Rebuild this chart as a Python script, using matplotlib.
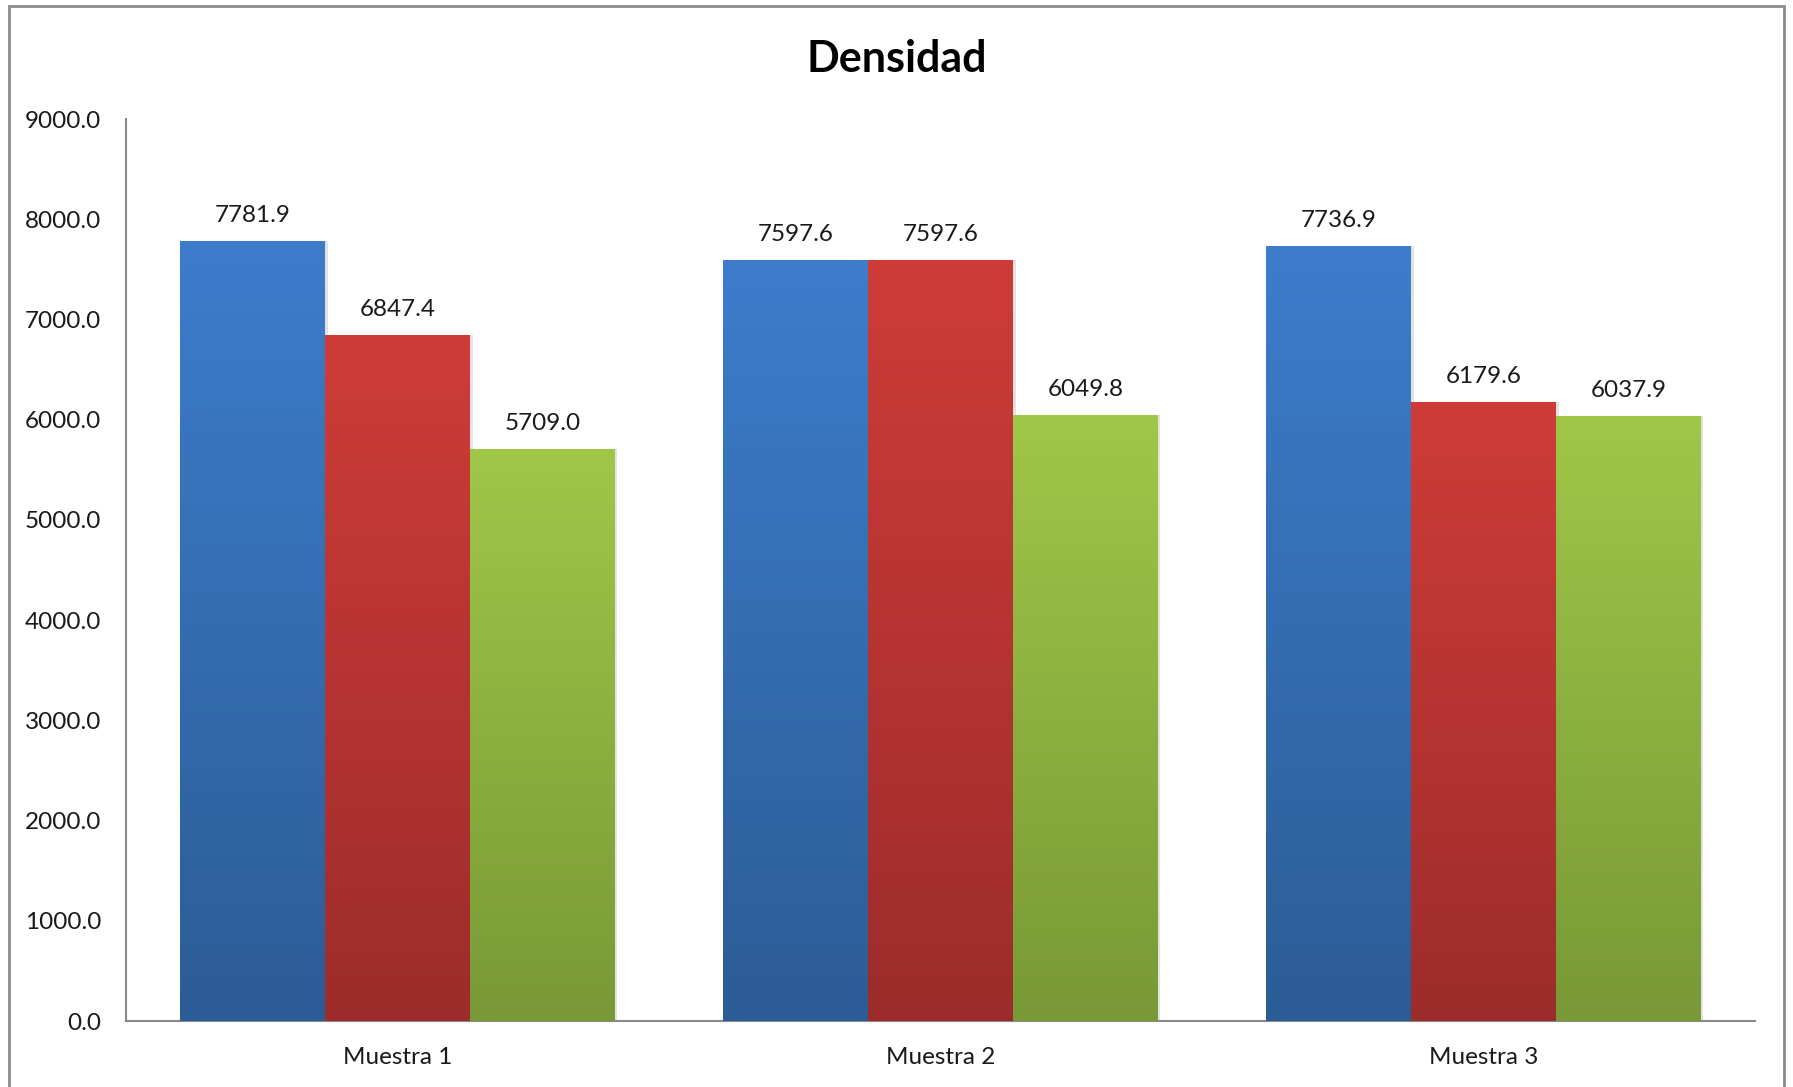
import numpy as np
import matplotlib
matplotlib.use("Agg")
import matplotlib.pyplot as plt
from matplotlib.colors import LinearSegmentedColormap
from matplotlib.patches import Rectangle

# data
categorias = ["Muestra 1", "Muestra 2", "Muestra 3"]
serie_a = [7781.9, 7597.6, 7736.9]
serie_b = [6847.4, 7597.6, 6179.6]
serie_c = [5709.0, 6049.8, 6037.9]
ticks_y = [0, 1000, 2000, 3000, 4000, 5000, 6000, 7000, 8000, 9000]

# gradient colours (top, bottom) like the excel look
grad = [("#3d7dcc", "#2c5c96"),
        ("#cf3c38", "#9c2c2b"),
        ("#a0c748", "#789936")]

plt.rcParams['font.family'] = ['Lato', 'DejaVu Sans']

fig = plt.figure(figsize=(17.93, 10.87), dpi=100)
ax = fig.add_axes([0.0703, 0.0607, 0.9085, 0.8298])

# outer frame of the chart area
fig.patches.append(Rectangle((9/1793, -0.05), 1775/1793, 1.05 - 6/1087,
                             transform=fig.transFigure, fill=False,
                             edgecolor="#8c8c8c", linewidth=2, zorder=0))

x = np.arange(len(categorias))
w = 0.8/3
series = [serie_a, serie_b, serie_c]
grad_img = np.linspace(0, 1, 256).reshape(-1, 1)

for i, vals in enumerate(series):
    pos = x + (i-1)*w
    # soft shadow
    ax.bar(pos + 0.005, vals, w, color="#e2e2e2", zorder=1, linewidth=0)
    bars = ax.bar(pos, vals, w, color=grad[i][0], zorder=2, linewidth=0)
    cmap = LinearSegmentedColormap.from_list("g%d" % i, [grad[i][1], grad[i][0]])
    for b, v in zip(bars, vals):
        x0 = b.get_x()
        im = ax.imshow(grad_img, cmap=cmap, origin="lower", aspect="auto",
                       extent=[x0, x0 + w, 0, v], zorder=3)
        im.set_clip_path(b)
        ax.text(x0 + w/2, v + 150, "%.1f" % v, ha="center", va="bottom",
                fontsize=17.5, color="#1a1a1a", zorder=4)

ax.set_xlim(-0.5, 2.5)
ax.set_ylim(0, 9000)
ax.set_yticks(ticks_y)
ax.set_yticklabels(["%.1f" % t for t in ticks_y])
ax.set_xticks(x)
ax.set_xticklabels(categorias)
ax.tick_params(axis="both", length=0, labelsize=17.5, colors="#1a1a1a")
ax.tick_params(axis="y", pad=18)
ax.tick_params(axis="x", pad=19)

for s in ["top", "right"]:
    ax.spines[s].set_visible(False)
for s in ["left", "bottom"]:
    ax.spines[s].set_color("#888888")
    ax.spines[s].set_linewidth(1.5)

fig.text(0.5, 0.946, "Densidad", ha="center", va="center",
         fontsize=31, fontweight="bold", color="#000000")

fig.savefig("out.png", dpi=100)
